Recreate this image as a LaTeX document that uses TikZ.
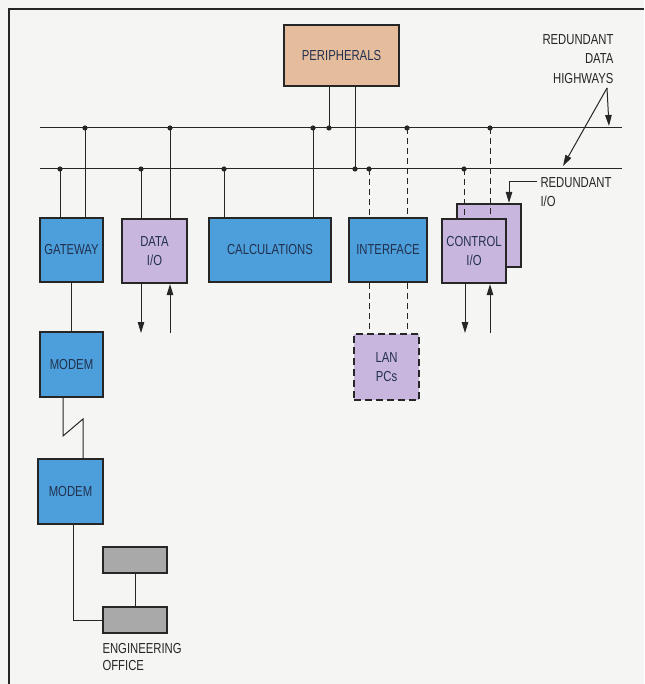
\documentclass[tikz,border=0pt]{standalone}
\usepackage{fontspec}
\setmainfont{Liberation Sans}[FakeStretch=0.78]
\usetikzlibrary{arrows.meta}
\definecolor{bgpaper}{HTML}{F5F5F3}
\definecolor{boxblue}{HTML}{4C9FDA}
\definecolor{boxlilac}{HTML}{C9B6DE}
\definecolor{boxtan}{HTML}{E6BD9C}
\definecolor{boxgray}{HTML}{A9A9A9}
\definecolor{inkline}{HTML}{262626}
\definecolor{inktext}{HTML}{22304F}

\begin{document}
\begin{tikzpicture}[x=1pt,y=-1pt,line width=1pt,draw=inkline,
  font=\fontsize{14.5}{19.5}\selectfont,
  unit/.style={draw=inkline,line width=2.2pt,align=center,text=inktext,
    inner sep=0pt,minimum width=64pt,minimum height=64pt},
  tag/.style={text=black!85,inner sep=0pt},
  link/.style={draw=inkline,line width=1pt},
  lanlink/.style={link,dash pattern=on 6pt off 4pt},
  tip/.style={-{Triangle[length=11pt,width=6.5pt]}}]
  \fill[bgpaper] (0,0) rectangle (644,684);
  \useasboundingbox (0,0) rectangle (644,684);
  \draw[line width=2pt,inkline] (9,684) -- (9,9) -- (644,9);

  % highways
  \coordinate (hwa) at (40,128); \coordinate (hwaE) at (622,128);
  \coordinate (hwb) at (40,169); \coordinate (hwbE) at (622,169);
  \draw[link] (hwa) -- (hwaE);
  \draw[link] (hwb) -- (hwbE);
  \foreach \n/\x in {gwa/85,dia/170,cla/313,pea/329,ifa/407,cta/490}
    \coordinate (\n) at (\x,128);
  \foreach \n/\x in {gwb/60,dib/141,clb/224,peb/355,ifb/369,ctb/464}
    \coordinate (\n) at (\x,169);

  % units
  \node[unit,fill=boxtan,minimum width=115pt,minimum height=61pt] (peri) at (341.5,55.5) {PERIPHERALS};
  \node[unit,fill=boxblue,minimum width=63pt] (gateway) at (71.5,250) {GATEWAY};
  \node[unit,fill=boxlilac,minimum width=65pt] (dataio) at (154.5,251) {DATA\\I/O};
  \node[unit,fill=boxblue,minimum width=122pt] (calc) at (270,250) {CALCULATIONS};
  \node[unit,fill=boxblue,minimum width=78pt] (iface) at (388,250) {INTERFACE};
  \node[unit,fill=boxlilac,minimum height=63pt] (ctrlback) at (489,235.5) {};
  \draw[lanlink] (ctb) -- (ctb |- 0,219);
  \draw[lanlink] (cta) -- (cta |- 0,219);
  \node[unit,fill=boxlilac] (ctrl) at (474,251) {CONTROL\\I/O};
  \node[unit,fill=boxblue,minimum width=63pt,minimum height=65pt] (modemA) at (71.5,364.5) {MODEM};
  \node[unit,fill=boxlilac,minimum width=65pt,minimum height=66pt,
        dash pattern=on 7pt off 4pt,line width=2.6pt] (lan) at (386.5,367) {LAN\\PCs};
  \node[unit,fill=boxblue,minimum width=65pt,minimum height=65pt] (modemB) at (70.5,491.5) {MODEM};
  \node[unit,fill=boxgray,minimum height=26pt] (engA) at (135,560) {};
  \node[unit,fill=boxgray,minimum height=26pt] (engB) at (135,620) {};

  % taps
  \draw[link] (peri.south -| pea) -- (pea);
  \draw[link] (peri.south -| peb) -- (peb);
  \foreach \n/\u in {gwa/gateway,gwb/gateway,dia/dataio,dib/dataio,cla/calc,clb/calc}
    \draw[link] (\n) -- (\u.north -| \n);
  \draw[lanlink] (ifa) -- (iface.north -| ifa);
  \draw[lanlink] (ifb) -- (iface.north -| ifb);
  \foreach \n in {gwa,dia,cla,pea,ifa,cta,gwb,dib,clb,peb,ifb,ctb}
    \fill[inkline] (\n) circle (2.6pt);

  % field i/o
  \coordinate (dio) at (141,333); \coordinate (dii) at (170,333);
  \coordinate (cio) at (465,333); \coordinate (cii) at (490,333);
  \draw[link,tip] (dataio.south -| dio) -- (dio);
  \draw[link,tip] (dii) -- (dataio.south -| dii);
  \draw[link,tip] (ctrl.south -| cio) -- (cio);
  \draw[link,tip] (cii) -- (ctrl.south -| cii);
  \draw[lanlink] (iface.south -| ifb) -- (lan.north -| ifb);
  \draw[lanlink] (iface.south -| ifa) -- (lan.north -| ifa);

  % phone line
  \coordinate (zz1) at (63,436); \coordinate (zz2) at (83,419);
  \coordinate (mbend) at (73,620);
  \draw[link] (gateway) -- (modemA);
  \draw[link] (modemA.south -| zz1) -- (zz1) -- (zz2) -- (modemB.north -| zz2);
  \draw[link] (modemB.south -| mbend) -- (mbend) -- (engB.west);
  \draw[link] (engA) -- (engB);

  % labels
  \node[tag,anchor=north east,align=right] (hwlabel) at (614,34) {REDUNDANT\\DATA\\HIGHWAYS};
  \coordinate (hwtip) at (607,88);
  \coordinate (hwtoA) at (609,126); \coordinate (hwtoB) at (563,166);
  \draw[link,tip] (hwtip) -- (hwtoA);
  \draw[link,tip] (hwtip) -- (hwtoB);
  \node[tag,anchor=north west,align=left] (iolabel) at (540,177) {REDUNDANT\\I/O};
  \coordinate (iobend) at (509,182);
  \draw[link,tip] ([xshift=-3pt]iolabel.west |- iobend) -- (iobend) -- (ctrlback.north -| iobend);
  \node[tag,anchor=north west,align=left,font=\fontsize{14.5}{17}\selectfont] (englabel) at (102,643) {ENGINEERING\\OFFICE};
\end{tikzpicture}
\end{document}
